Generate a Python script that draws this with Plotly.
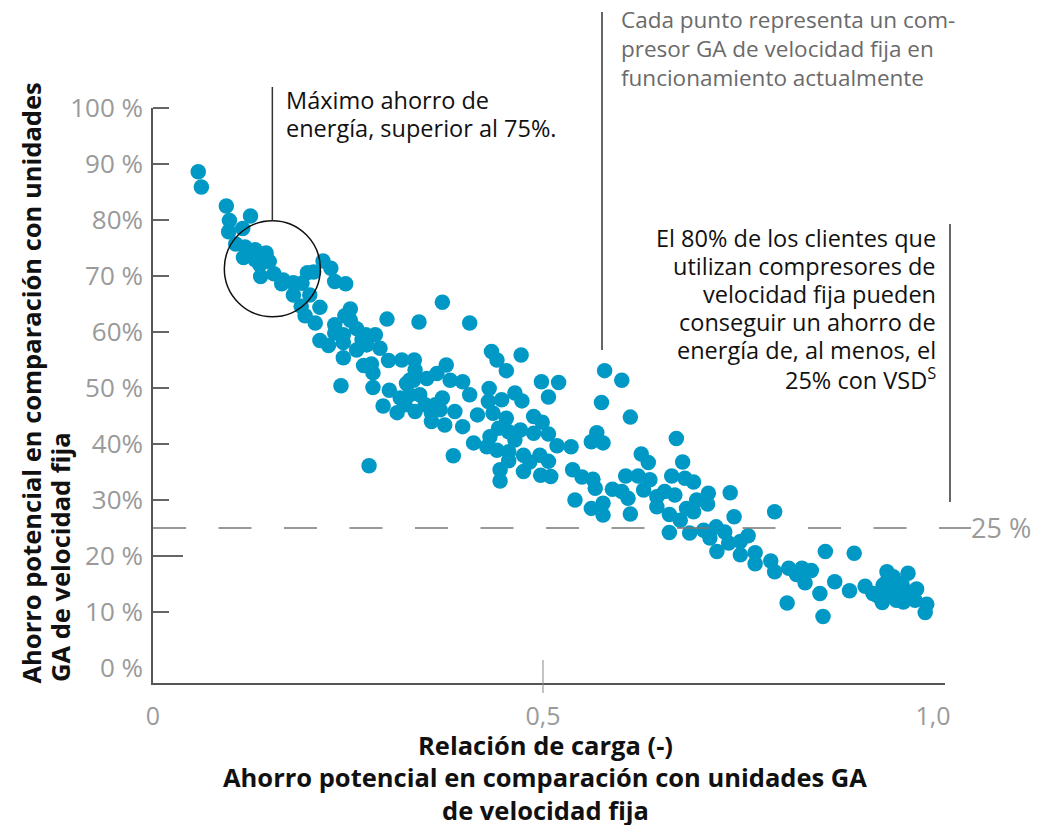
import plotly.graph_objects as go

# ---- data ----
load_ratio = [
    0.058, 0.062, 0.094, 0.098, 0.097, 0.125, 0.115, 0.118, 0.131, 0.145,
    0.116, 0.131, 0.149, 0.138, 0.155, 0.167, 0.180, 0.191, 0.180, 0.198,
    0.206, 0.218, 0.228, 0.233, 0.247, 0.201, 0.190, 0.214, 0.195, 0.208,
    0.253, 0.246, 0.300, 0.341, 0.371, 0.233, 0.261, 0.273, 0.285, 0.214,
    0.225, 0.244, 0.261, 0.244, 0.270, 0.280, 0.282, 0.302, 0.319, 0.335,
    0.241, 0.282, 0.303, 0.325, 0.334, 0.406, 0.244, 0.274, 0.376, 0.364,
    0.336, 0.329, 0.351, 0.381, 0.397, 0.406, 0.317, 0.329, 0.295, 0.313,
    0.336, 0.349, 0.362, 0.371, 0.357, 0.387, 0.357, 0.374, 0.397, 0.416,
    0.434, 0.441, 0.453, 0.472, 0.431, 0.430, 0.447, 0.436, 0.453, 0.464,
    0.473, 0.498, 0.520, 0.507, 0.488, 0.499, 0.488, 0.507, 0.518, 0.443,
    0.456, 0.432, 0.411, 0.428, 0.441, 0.456, 0.456, 0.445, 0.445, 0.475,
    0.483, 0.475, 0.507, 0.497, 0.510, 0.385, 0.277, 0.579, 0.601, 0.575,
    0.612, 0.536, 0.569, 0.562, 0.577, 0.538, 0.550, 0.564, 0.567, 0.541,
    0.562, 0.577, 0.577, 0.589, 0.601, 0.609, 0.612, 0.626, 0.635, 0.606,
    0.622, 0.629, 0.646, 0.646, 0.656, 0.662, 0.662, 0.671, 0.679, 0.665,
    0.682, 0.693, 0.684, 0.693, 0.676, 0.697, 0.712, 0.711, 0.740, 0.745,
    0.688, 0.706, 0.714, 0.722, 0.733, 0.738, 0.723, 0.753, 0.763, 0.753,
    0.772, 0.772, 0.797, 0.792, 0.797, 0.815, 0.825, 0.832, 0.844, 0.836,
    0.862, 0.813, 0.855, 0.859, 0.874, 0.899, 0.893, 0.913, 0.923, 0.935,
    0.941, 0.936, 0.949, 0.953, 0.960, 0.968, 0.953, 0.962, 0.971, 0.979,
    0.945, 0.992, 0.990, 0.942, 0.964, 0.977, 0.929, 0.124, 0.137, 0.165,
    0.106, 0.253, 0.268, 0.291, 0.233, 0.342, 0.368, 0.323, 0.464, 0.471,
    0.496, 0.637, 0.669,
]
savings_pct = [
    88.6, 85.9, 82.5, 79.9, 77.9, 80.7, 78.5, 75.2, 74.7, 74.1,
    73.3, 72.9, 72.6, 69.9, 70.4, 69.3, 68.8, 68.7, 66.6, 70.6,
    70.7, 72.7, 71.4, 69.0, 68.6, 66.6, 64.6, 64.4, 62.9, 61.6,
    64.1, 62.9, 62.3, 61.8, 65.3, 61.3, 60.6, 59.5, 59.5, 58.5,
    57.6, 58.1, 56.8, 55.4, 54.0, 54.3, 52.7, 54.9, 55.0, 55.0,
    50.4, 50.1, 49.6, 50.8, 51.4, 61.6, 59.5, 57.7, 54.1, 52.6,
    53.2, 51.4, 51.7, 51.4, 51.1, 48.8, 48.2, 48.8, 46.8, 45.6,
    45.8, 47.0, 47.0, 48.2, 45.5, 45.8, 44.0, 43.4, 43.1, 45.2,
    56.5, 55.0, 53.1, 55.9, 49.9, 47.6, 47.9, 45.5, 44.6, 49.1,
    47.7, 51.1, 51.0, 48.4, 44.9, 43.9, 41.9, 41.8, 39.7, 42.8,
    42.2, 41.3, 40.2, 39.5, 38.9, 38.6, 37.0, 35.4, 33.4, 38.0,
    36.8, 35.1, 36.9, 34.4, 34.2, 37.9, 36.1, 53.1, 51.4, 47.4,
    44.8, 39.5, 42.0, 40.4, 40.2, 35.4, 34.1, 33.7, 32.1, 30.0,
    28.5, 29.4, 27.3, 31.9, 31.5, 30.3, 27.5, 38.2, 36.7, 34.3,
    34.3, 31.8, 30.6, 28.8, 31.5, 27.4, 24.2, 41.0, 36.8, 34.3,
    33.9, 33.2, 28.5, 27.9, 26.4, 30.0, 31.2, 29.3, 31.3, 27.0,
    24.1, 24.6, 23.2, 25.2, 24.3, 22.3, 20.8, 22.6, 23.6, 20.2,
    20.6, 18.6, 27.9, 19.1, 17.2, 17.8, 16.7, 17.8, 17.4, 15.2,
    20.8, 11.6, 13.3, 9.2, 15.4, 20.5, 13.8, 14.6, 13.3, 11.7,
    17.2, 14.8, 16.3, 14.2, 15.1, 16.9, 12.1, 11.8, 12.7, 14.1,
    13.3, 11.4, 9.9, 15.7, 13.9, 12.1, 12.9, 74.3, 72.0, 68.6,
    75.7, 62.1, 58.6, 57.1, 59.8, 48.8, 46.1, 47.0, 40.7, 42.5,
    38.0, 33.6, 30.9,
]

y_tick_vals = [0, 10, 20, 30, 40, 50, 60, 70, 80, 90, 100]
y_tick_text = ["0 %", "10 %", "20 %", "30%", "40%", "50 %", "60%", "70 %", "80%", "90 %", "100 %"]
x_tick_vals = [0, 0.5, 1.0]
x_tick_text = ["0", "0,5", "1,0"]
threshold = 25
threshold_label = "25 %"
highlight_center = (0.153, 71.3)

note_max = ["Máximo ahorro de", "energía, superior al 75%."]
note_each = ["Cada punto representa un com-", "presor GA de velocidad fija en",
             "funcionamiento actualmente"]
note_80 = ["El 80% de los clientes que", "utilizan compresores de",
           "velocidad fija pueden", "conseguir un ahorro de",
           "energía de, al menos, el", "25% con VSD<sup>S</sup>"]
y_title = ["Ahorro potencial en comparación con unidades", "GA de velocidad fija"]
x_title = ["Relación de carga (-)", "Ahorro potencial en comparación con unidades GA",
           "de velocidad fija"]

# ---- layout geometry (screen pixels; page body has an 8px margin) ----
OFF = 8
W, H = 1040, 817
L, R, T, B = 145, 103, 100, 142
PW, PH = W - L - R, H - T - B
X_RANGE = [0, 1.0154]
Y_RANGE = [-2.68, 100]

def xp(v):  # data x -> paper
    return (v - X_RANGE[0]) / (X_RANGE[1] - X_RANGE[0])

def yp(v):  # data y -> paper
    return (v - Y_RANGE[0]) / (Y_RANGE[1] - Y_RANGE[0])

def px_x(px):  # screen pixel x -> paper
    return (px - OFF - L) / PW

def px_y(py):  # screen pixel y -> paper
    return (H - B - (py - OFF)) / PH

BLUE = "#0099c6"
GRAY = "#9a9a9a"
FONT = "Open Sans"

fig = go.Figure()
fig.add_trace(go.Scatter(
    x=load_ratio, y=savings_pct, mode="markers",
    marker=dict(size=15.5, color=BLUE, line=dict(width=0)),
    hoverinfo="x+y", showlegend=False, cliponaxis=False,
))

shapes = []
for v in y_tick_vals[1:]:
    ln = 30 if v == 20 else 16
    shapes.append(dict(type="line", xref="paper", yref="paper",
                       x0=0, x1=ln / PW, y0=yp(v), y1=yp(v),
                       line=dict(color="#333", width=1.5)))
shapes.append(dict(type="line", xref="paper", yref="paper",
                   x0=xp(0.5), x1=xp(0.5), y0=px_y(693), y1=px_y(660),
                   line=dict(color="#888", width=1)))
shapes.append(dict(type="line", xref="paper", yref="paper",
                   x0=0, x1=px_x(971), y0=yp(threshold), y1=yp(threshold),
                   line=dict(color="#777", width=1.5, dash="33px,32.5px")))
r_px = 48
cx = xp(highlight_center[0]); cy = yp(highlight_center[1])
shapes.append(dict(type="circle", xref="paper", yref="paper",
                   x0=cx - r_px / PW, x1=cx + r_px / PW,
                   y0=cy - r_px / PH, y1=cy + r_px / PH,
                   line=dict(color="#111", width=1.5)))
shapes.append(dict(type="line", xref="paper", yref="paper",
                   x0=cx, x1=cx, y0=cy + r_px / PH, y1=px_y(87),
                   line=dict(color="#333", width=1.5)))
shapes.append(dict(type="line", xref="paper", yref="paper",
                   x0=px_x(602), x1=px_x(602), y0=px_y(350), y1=px_y(12),
                   line=dict(color="#333", width=1.5)))
shapes.append(dict(type="line", xref="paper", yref="paper",
                   x0=px_x(950), x1=px_x(950), y0=px_y(502), y1=px_y(224),
                   line=dict(color="#333", width=1.5)))

annotations = []
def ann(text, x, y, size, color="#111", xanchor="left", yanchor="middle",
        bold=False, angle=0):
    annotations.append(dict(
        text=f"<b>{text}</b>" if bold else text,
        xref="paper", yref="paper", x=x, y=y, showarrow=False,
        xanchor=xanchor, yanchor=yanchor, textangle=angle,
        font=dict(family=FONT, size=size, color=color)))

for i, line in enumerate(note_max):
    ann(line, px_x(284), px_y(100 + 28 * i), 23.5)
for i, line in enumerate(note_each):
    ann(line, px_x(619), px_y(20 + 28.5 * i), 22.5, color="#6a6a6a")
for i, line in enumerate(note_80):
    ann(line, px_x(938), px_y(238 + 28 * i), 23.5, xanchor="right")
ann(threshold_label, px_x(969), yp(threshold), 27, color=GRAY)

ann(y_title[0], px_x(30), px_y(686), 25.5, bold=True, angle=-90,
    xanchor="center", yanchor="bottom")
ann(y_title[1], px_x(60), px_y(684), 25.5, bold=True, angle=-90,
    xanchor="center", yanchor="bottom")
for i, line in enumerate(x_title):
    ann(line, px_x(545), px_y(745 + 32.5 * i), 25.5, bold=True, xanchor="center")

fig.update_layout(
    width=W, height=H,
    margin=dict(l=L, r=R, t=T, b=B),
    paper_bgcolor="white", plot_bgcolor="white",
    shapes=shapes, annotations=annotations,
    font=dict(family=FONT),
    xaxis=dict(range=X_RANGE, showgrid=False, zeroline=False,
               showline=True, linecolor="#555", linewidth=1.5,
               tickvals=x_tick_vals, ticktext=x_tick_text, ticks="",
               ticklabelstandoff=10,
               tickfont=dict(family=FONT, size=25, color=GRAY)),
    yaxis=dict(range=Y_RANGE, showgrid=False, zeroline=False,
               showline=True, linecolor="#555", linewidth=1.5,
               tickvals=y_tick_vals, ticktext=y_tick_text, ticks="",
               ticklabelstandoff=3,
               tickfont=dict(family=FONT, size=26, color=GRAY)),
)

fig.write_html("out.html")
